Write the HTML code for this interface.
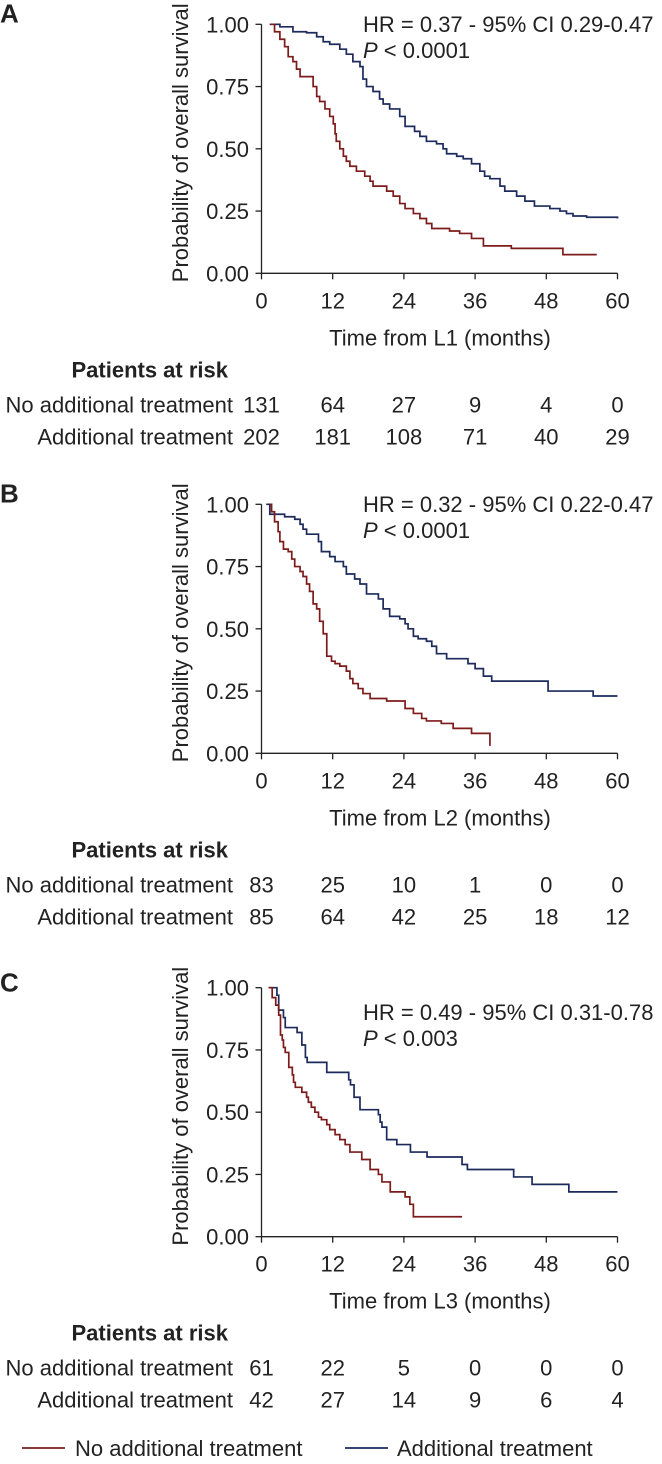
<!DOCTYPE html>
<html><head><meta charset="utf-8"><style>
body{margin:0;background:#fff;}
svg{display:block;font-family:"Liberation Sans",Arial,sans-serif;}
text{fill:#222;}
</style></head><body>
<svg id="fig" width="662" height="1464" viewBox="0 0 662 1464"></svg>
<script>
// ---- data ----
const xTicks = [0, 12, 24, 36, 48, 60];
const yTicks = [0, 0.25, 0.5, 0.75, 1.0];
const yTickLabels = ["0.00", "0.25", "0.50", "0.75", "1.00"];
const panelLetters = ["A", "B", "C"];
const xTitles = ["Time from L1 (months)", "Time from L2 (months)", "Time from L3 (months)"];
const hrTexts = ["HR = 0.37 - 95% CI 0.29-0.47", "HR = 0.32 - 95% CI 0.22-0.47", "HR = 0.49 - 95% CI 0.31-0.78"];
const pTexts = ["< 0.0001", "< 0.0001", "< 0.003"];
const riskNoA = [131, 64, 27, 9, 4, 0];
const riskAddA = [202, 181, 108, 71, 40, 29];
const riskNoB = [83, 25, 10, 1, 0, 0];
const riskAddB = [85, 64, 42, 25, 18, 12];
const riskNoC = [61, 22, 5, 0, 0, 0];
const riskAddC = [42, 27, 14, 9, 6, 4];

const aBlueT = [1.4,3.1,5.3,7.6,9.3,10.4,11.5,13.2,14.3,15.4,16.6,17.1,17.7,18.8,19.9,20.5,21.6,23.3,24.2,25.8,26.7,27.8,29.5,30.6,31.2,32.9,34,35.4,36.8,37.6,38.5,40.2,41,43,44.4,46,48.6,50.3,51.4,52.5,54.8,60];
const aBlueS = [1,0.99,0.97,0.966,0.95,0.93,0.92,0.9,0.88,0.85,0.83,0.78,0.75,0.73,0.7,0.68,0.66,0.63,0.59,0.57,0.55,0.53,0.52,0.5,0.48,0.47,0.46,0.44,0.41,0.39,0.38,0.35,0.33,0.31,0.29,0.27,0.26,0.25,0.24,0.23,0.225,0.22];
const aRedT = [1.4,2.2,3.1,3.9,4.5,5.3,5.9,6.5,8.7,9.3,9.8,10.7,11.5,12.1,12.4,12.6,13.2,13.8,14.3,14.9,16,17.4,18.3,18.8,21.1,22.2,23.3,24.2,25.6,26.7,27.8,28.7,31.7,33.4,35.4,37.4,42.1,50.8,56.5];
const aRedS = [1,0.97,0.94,0.91,0.87,0.85,0.82,0.79,0.75,0.71,0.69,0.66,0.63,0.6,0.56,0.53,0.5,0.47,0.45,0.43,0.41,0.39,0.37,0.35,0.33,0.31,0.28,0.26,0.24,0.22,0.2,0.18,0.17,0.16,0.14,0.11,0.1,0.075,0.075];
const bBlueT = [0.8,1.4,3.9,5.6,6.5,7,7.6,9.6,10.1,11.5,12.4,13.8,14.3,15.7,16.6,17.7,19.7,20.5,21.6,23.3,24.2,24.7,25.6,26.4,27.8,28.7,29.5,31.2,34.8,36,37.4,38.8,48.3,55.9,60];
const bBlueS = [1,0.96,0.95,0.94,0.92,0.9,0.88,0.85,0.81,0.79,0.77,0.75,0.72,0.7,0.68,0.64,0.62,0.58,0.55,0.54,0.52,0.5,0.47,0.46,0.45,0.43,0.4,0.38,0.36,0.34,0.31,0.29,0.25,0.23,0.23];
const bRedT = [1.4,1.7,2.2,2.8,3.1,3.7,4.5,5.1,5.6,6.5,7,7.6,8.1,8.7,9.3,9.8,10.4,11,11.8,12.4,13.2,14.3,14.9,15.4,16.3,17.1,18.3,21.1,24.2,25.6,27,27.8,30.3,32.3,35.4,38.5];
const bRedS = [1,0.97,0.93,0.89,0.85,0.82,0.81,0.78,0.75,0.73,0.71,0.68,0.65,0.6,0.58,0.53,0.48,0.39,0.37,0.36,0.35,0.33,0.3,0.28,0.26,0.24,0.22,0.21,0.18,0.16,0.14,0.13,0.12,0.1,0.08,0.03];
const cBlueT = [1.2,2.6,2.9,3.7,4,6,6.8,7.4,7.7,11,14.7,15,15.6,16.6,19.7,20,20.3,21.1,22.8,25.1,27.9,33.8,34.7,42.5,45.6,51.8,60];
const cBlueS = [1,0.97,0.91,0.88,0.84,0.82,0.77,0.72,0.7,0.66,0.63,0.61,0.56,0.51,0.49,0.46,0.44,0.39,0.37,0.34,0.32,0.29,0.27,0.24,0.21,0.18,0.18];
const cRedT = [1.2,1.8,2.4,2.9,3.2,3.5,3.7,4,4.6,5.2,5.4,5.7,6.8,7.6,7.9,8.4,9,9.6,10.1,11,11.5,12.4,13.2,14.1,14.9,16.9,18.3,19.7,20.3,21.7,24.2,25,25.6,33.8];
const cRedS = [1,0.96,0.93,0.89,0.81,0.79,0.76,0.74,0.68,0.65,0.62,0.6,0.58,0.56,0.54,0.52,0.5,0.48,0.47,0.45,0.43,0.41,0.39,0.37,0.34,0.31,0.27,0.25,0.22,0.18,0.16,0.13,0.08,0.08];

// ---- layout ----
const NS = "http://www.w3.org/2000/svg";
const svg = document.getElementById("fig");
const X0 = 261.5, X1 = 617.5;
const FS = 22;
const panels = [
  {top: 24.3, bot: 273.3, blueT: aBlueT, blueS: aBlueS, redT: aRedT, redS: aRedS, no: riskNoA, add: riskAddA, hrY: 32},
  {top: 504.3, bot: 753.3, blueT: bBlueT, blueS: bBlueS, redT: bRedT, redS: bRedS, no: riskNoB, add: riskAddB, hrY: 512},
  {top: 987.7, bot: 1236.7, blueT: cBlueT, blueS: cBlueS, redT: cRedT, redS: cRedS, no: riskNoC, add: riskAddC, hrY: 1020}
];
const RED = "#7d1b1b", BLUE = "#1c2a5c";
function xs(t){ return X0 + (t - 0) / 60 * (X1 - X0); }
function el(tag, attrs, parent){ const e = document.createElementNS(NS, tag); for (const k in attrs) e.setAttribute(k, attrs[k]); (parent||svg).appendChild(e); return e; }
function txt(s, x, y, size, anchor, parent, weight){ const t = el("text", {x:x, y:y, "font-size":size, "text-anchor":anchor||"start"}, parent); if (weight) t.setAttribute("font-weight", weight); t.textContent = s; return t; }

panels.forEach((p, i) => {
  const g = el("g", {});
  
  
  const ys = v => p.bot - v * (p.bot - p.top);
  const letter = txt(panelLetters[i], 0, p.top + (i===2?4:-2), 26, "start", g, "bold");
  
  
  const ax = el("path", {d:`M${X0} ${p.top}V${p.bot}H${X1}`, stroke:"#222", "stroke-width":1.3, fill:"none"}, g);
  
  
  yTicks.forEach((v, k) => {
    const y = ys(v);
    el("line", {x1:X0-6, x2:X0, y1:y, y2:y, stroke:"#222", "stroke-width":1.3}, g);
    const t = txt(yTickLabels[k], 249, y + 8, FS, "end", g);
    
    
  });
  xTicks.forEach(v => {
    const x = xs(v);
    el("line", {x1:x, x2:x, y1:p.bot, y2:p.bot+6, stroke:"#222", "stroke-width":1.3}, g);
    const t = txt(String(v), x, p.bot + 35, FS, "middle", g);
    
    
  });
  const yt = txt("Probability of overall survival", 0, 0, FS, "middle", g);
  yt.setAttribute("transform", `translate(188 ${(p.top+p.bot)/2 - 6}) rotate(-90)`);
  
  
  const xt = txt(xTitles[i], 440, p.bot + 72, FS, "middle", g);
  
  
  const hr = txt(hrTexts[i], 363, p.hrY, FS, "start", g);
  
  
  const pt = el("text", {x:363, y:p.hrY + 26, "font-size":FS}, g);
  
  
  const pi = el("tspan", {"font-style":"italic"}, pt); pi.textContent = "P";
  const pr = el("tspan", {}, pt); pr.textContent = " " + pTexts[i];
  [[p.blueT, p.blueS, BLUE, 'additional-treatment-curve'], [p.redT, p.redS, RED, 'no-additional-treatment-curve']].forEach(([T, S, c, nm]) => {
    let d = `M${xs(T[0])} ${ys(S[0])}`;
    for (let k = 1; k < T.length; k++) { d += `H${xs(T[k])}V${ys(S[k])}`; }
    const path = el("path", {d:d, stroke:c, "stroke-width":1.7, fill:"none"}, g);
    
    
  });
  const ry = p.bot + 104;
  const h = txt("Patients at risk", 228, ry, FS, "end", g, "bold");
  
  
  const l1 = txt("No additional treatment", 233, ry + 35, FS, "end", g);
  
  
  const l2 = txt("Additional treatment", 233, ry + 67, FS, "end", g);
  
  
  xTicks.forEach((v, k) => {
    const a = txt(String(p.no[k]), xs(v), ry + 35, FS, "middle", g);
    
    
    const b = txt(String(p.add[k]), xs(v), ry + 67, FS, "middle", g);
    
    
  });
});
const lg = el("g", {});


el("line", {x1:22, x2:65, y1:1448, y2:1448, stroke:RED, "stroke-width":1.8}, lg);
const le1 = txt("No additional treatment", 75, 1456, FS, "start", lg);


el("line", {x1:345, x2:388, y1:1448, y2:1448, stroke:BLUE, "stroke-width":1.8}, lg);
const le2 = txt("Additional treatment", 397, 1456, FS, "start", lg);


</script>
</body></html>
